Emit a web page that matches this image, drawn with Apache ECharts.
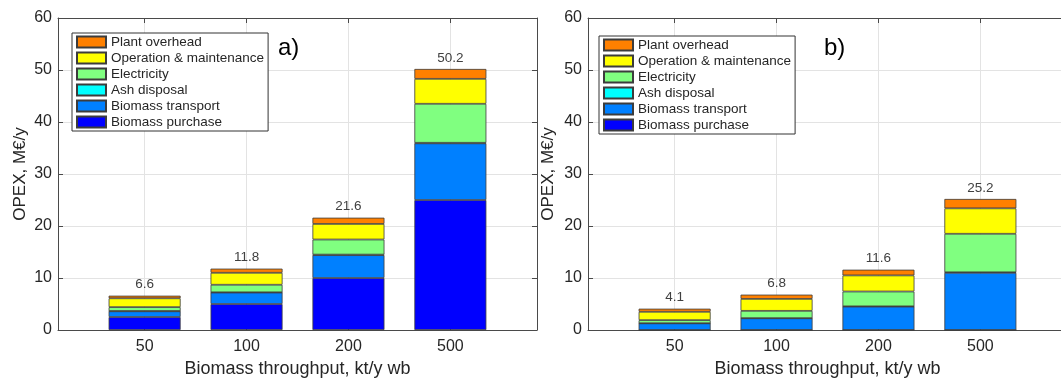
<!DOCTYPE html>
<html><head><meta charset="utf-8">
<script src="https://cdn.jsdelivr.net/npm/echarts@6/dist/echarts.min.js"></script>
<style>html,body{margin:0;padding:0;background:#fff}#c{width:1061px;height:380px}</style>
</head><body><div id="c"></div>
<script>
const categories = ['50', '100', '200', '500'];
const seriesNames = ['Biomass purchase', 'Biomass transport', 'Ash disposal', 'Electricity', 'Operation & maintenance', 'Plant overhead'];
const colors = ['#0000FF', '#0080FF', '#00FFFF', '#80FF80', '#FFFF00', '#FF8000'];
// panel a)
const purchaseA  = [2.5, 5.0, 10.0, 25.0];
const transportA = [1.1, 2.2, 4.4, 10.9];
const ashA       = [0.05, 0.05, 0.1, 0.1];
const elecA      = [0.75, 1.45, 2.9, 7.5];
const omA        = [1.7, 2.3, 3.0, 4.8];
const overheadA  = [0.5, 0.8, 1.2, 1.9];
const totalsA    = ['6.6', '11.8', '21.6', '50.2'];
// panel b)
const purchaseB  = [0, 0, 0, 0];
const transportB = [1.28, 2.25, 4.5, 11.0];
const ashB       = [0.02, 0.03, 0.05, 0.1];
const elecB      = [0.6, 1.4, 2.85, 7.4];
const omB        = [1.6, 2.3, 3.1, 4.9];
const overheadB  = [0.6, 0.82, 1.1, 1.8];
const totalsB    = ['4.1', '6.8', '11.6', '25.2'];

const FONT = 'Liberation Sans, Arial, sans-serif';
const TXT = '#262626';
const AX = '#4a4a4a';
const pos = [1, 2, 3, 4];
const XMIN = 0.15, XMAX = 4.85;
const FRAME_W = 479, TOP = 18, H = 312;
const unit = FRAME_W / (XMAX - XMIN);

// frame grids (0,1) and bar grids (2,3)
const frameLefts = [58, 588];
const grids = frameLefts.map(l => ({left: l, top: TOP, width: FRAME_W, height: H, outerBoundsMode: 'none', containLabel: false}))
  .concat(frameLefts.map(l => ({left: l + (0.5 - XMIN) * unit, top: TOP, width: 4 * unit, height: H, outerBoundsMode: 'none', containLabel: false})));

const xAxis = [], yAxis = [];
frameLefts.forEach((l, gi) => {
  const base = {gridIndex: gi, type: 'value', min: XMIN, max: XMAX,
    axisLine: {show: true, onZero: false, lineStyle: {color: AX, width: 1}}};
  xAxis.push(Object.assign({}, base, {
    position: 'bottom',
    axisTick: {show: true, inside: true, length: 5, customValues: pos, lineStyle: {color: AX}},
    axisLabel: {customValues: pos, formatter: v => categories[Math.round(v) - 1] || '', color: TXT, fontSize: 16, fontFamily: FONT, margin: 9},
    splitLine: {show: true, lineStyle: {color: '#e3e3e3', width: 1}},
    name: 'Biomass throughput, kt/y wb', nameLocation: 'middle', nameGap: 28,
    nameTextStyle: {color: TXT, fontSize: 18, fontFamily: FONT}
  }));
  xAxis.push(Object.assign({}, base, {
    position: 'top',
    axisTick: {show: true, inside: true, length: 5, customValues: pos, lineStyle: {color: AX}},
    axisLabel: {show: false}, splitLine: {show: false}
  }));
  const ybase = {gridIndex: gi, type: 'value', min: 0, max: 60, interval: 10,
    axisLine: {show: true, lineStyle: {color: AX, width: 1}}};
  yAxis.push(Object.assign({}, ybase, {
    position: 'left',
    axisTick: {show: true, inside: true, length: 5, lineStyle: {color: AX}},
    axisLabel: {color: TXT, fontSize: 16, fontFamily: FONT, margin: 6},
    splitLine: {show: true, lineStyle: {color: '#e3e3e3', width: 1}},
    name: 'OPEX, M€/y', nameLocation: 'middle', nameGap: gi === 0 ? 29 : 31,
    nameTextStyle: {color: TXT, fontSize: 17, fontFamily: FONT}
  }));
  yAxis.push(Object.assign({}, ybase, {
    position: 'right',
    axisTick: {show: true, inside: true, length: 5, lineStyle: {color: AX}},
    axisLabel: {show: false}, splitLine: {show: false}
  }));
});
// hidden axes for bar grids: xAxis index 4,5 ; yAxis index 4,5
[2, 3].forEach(gi => {
  xAxis.push({gridIndex: gi, type: 'category', data: categories, boundaryGap: true, show: false});
  yAxis.push({gridIndex: gi, type: 'value', min: 0, max: 60, interval: 10, show: false});
});

function makeSeries(arrs, totals, ai, stack) {
  return arrs.map((arr, k) => {
    const s = {
      name: seriesNames[k], type: 'bar', stack: stack,
      xAxisIndex: ai, yAxisIndex: ai, barWidth: 72,
      itemStyle: {color: colors[k], borderColor: '#3c3c3c', borderWidth: 0.8},
      data: arr.slice(),
      emphasis: {disabled: true}, animation: false
    };
    if (k === arrs.length - 1) {
      s.label = {show: true, position: 'top', distance: 4, color: '#404040', fontSize: 13.5, fontFamily: FONT,
        formatter: p => totals[p.dataIndex]};
    }
    return s;
  });
}

const series = [].concat(
  makeSeries([purchaseA, transportA, ashA, elecA, omA, overheadA], totalsA, 4, 'a'),
  makeSeries([purchaseB, transportB, ashB, elecB, omB, overheadB], totalsB, 5, 'b')
);

const legendData = seriesNames.slice().reverse();
function legend(left, top) {
  return {
    data: legendData, orient: 'vertical', left: left, top: top,
    itemWidth: 29, itemHeight: 11, itemGap: 2, icon: 'rect',
    padding: [2, 4, 2, 4], borderColor: '#333', borderWidth: 1, backgroundColor: '#fff',
    textStyle: {color: TXT, fontSize: 13.5, fontFamily: FONT},
    selectedMode: false
  };
}

const chart = echarts.init(document.getElementById('c'), null, {renderer: 'canvas'});
chart.setOption({
  animation: false,
  grid: grids,
  xAxis: xAxis, yAxis: yAxis, series: series,
  legend: [legend(72, 33), legend(599, 36)],
  graphic: [
    {type: 'text', left: 278, top: 36, style: {text: 'a)', font: '24px ' + FONT, fill: '#000'}},
    {type: 'text', left: 824, top: 36, style: {text: 'b)', font: '24px ' + FONT, fill: '#000'}}
  ]
});
</script></body></html>
